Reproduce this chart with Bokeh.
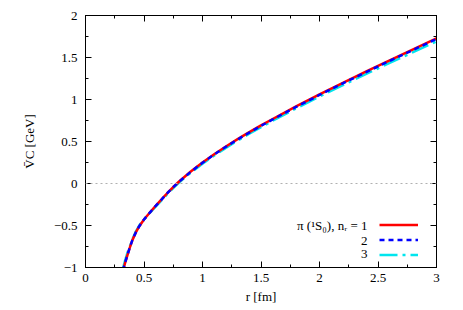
from bokeh.plotting import figure
from bokeh.models import (Range1d, SingleIntervalTicker, LinearAxis, Span, Legend,
                          LegendItem, Label, CustomJSTickFormatter, CustomLabelingPolicy)
from bokeh.embed import file_html
from bokeh.resources import INLINE

# r [fm]
r = [0.32, 0.34, 0.36, 0.38, 0.40, 0.43, 0.46, 0.50, 0.55, 0.60, 0.65, 0.70, 0.75, 0.80,
     0.90, 1.0, 1.1, 1.2, 1.3, 1.4, 1.5, 1.6, 1.8, 2.0, 2.2, 2.4, 2.6, 2.8, 3.0]
# V_C [GeV] for n_r = 1, 2, 3
v1 = [-1.039, -0.938, -0.846, -0.758, -0.677, -0.583, -0.508, -0.428, -0.345, -0.265,
      -0.190, -0.113, -0.042, 0.024, 0.143, 0.250, 0.349, 0.441, 0.528, 0.611, 0.691,
      0.768, 0.917, 1.060, 1.199, 1.334, 1.467, 1.597, 1.727]
v2 = [-1.036, -0.936, -0.844, -0.757, -0.676, -0.583, -0.508, -0.429, -0.346, -0.266,
      -0.191, -0.115, -0.044, 0.022, 0.140, 0.247, 0.345, 0.437, 0.524, 0.606, 0.686,
      0.763, 0.911, 1.054, 1.192, 1.327, 1.460, 1.590, 1.720]
v3 = [-1.009, -0.908, -0.818, -0.748, -0.667, -0.573, -0.498, -0.428, -0.35, -0.275,
      -0.201, -0.124, -0.054, 0.012, 0.130, 0.235, 0.333, 0.424, 0.510, 0.592, 0.671,
      0.747, 0.894, 1.035, 1.172, 1.305, 1.436, 1.564, 1.692]

legend_labels = ["\u03c0 (\u00b9S\u2080), n\u1d63 = 1", "2", "3"]

FONT = "serif"

p = figure(width=455, height=308, output_backend="svg", toolbar_location=None,
           x_range=Range1d(0, 3), y_range=Range1d(-1, 2),
           min_border_left=85, min_border_right=19, min_border_top=15, min_border_bottom=41)
p.grid.visible = False
p.outline_line_color = "black"
p.background_fill_color = "white"
p.border_fill_color = "white"

fmt = CustomJSTickFormatter(code="""
    const s = (Math.round(Math.abs(tick)*100)/100).toString();
    return tick < -1e-9 ? "\\u2212" + s : s;
""")

xt = SingleIntervalTicker(interval=0.5, num_minor_ticks=2)
yt = SingleIntervalTicker(interval=0.5, num_minor_ticks=2)
p.xaxis.ticker = xt
p.yaxis.ticker = yt
p.xaxis.formatter = fmt
p.yaxis.formatter = fmt

for ax in [p.xaxis[0], p.yaxis[0]]:
    ax.major_tick_in = 6
    ax.major_tick_out = 0
    ax.minor_tick_in = 3
    ax.minor_tick_out = 0
    ax.axis_line_color = "black"
    ax.major_tick_line_color = "black"
    ax.minor_tick_line_color = "black"
    ax.major_label_text_font = FONT
    ax.major_label_text_font_size = "13px"
    ax.major_label_text_color = "black"
    ax.axis_label_text_font = FONT
    ax.axis_label_text_font_size = "13px"
    ax.axis_label_text_font_style = "normal"
    ax.axis_label_text_color = "black"

p.xaxis.axis_label = "r [fm]"
p.yaxis.axis_label = "V\u0304C [GeV]"
p.xaxis.major_label_standoff = 6
p.yaxis.major_label_standoff = 8
p.xaxis.axis_label_standoff = 4
p.yaxis.axis_label_standoff = 14

no_labels = CustomLabelingPolicy(code="return new Set()")
for loc, tk in [("above", xt), ("right", yt)]:
    ax = LinearAxis(ticker=tk, major_label_text_font_size="1px", major_label_standoff=0,
                    major_label_policy=no_labels,
                    major_tick_in=6, major_tick_out=0, minor_tick_in=3, minor_tick_out=0,
                    axis_line_color="black", major_tick_line_color="black",
                    minor_tick_line_color="black")
    p.add_layout(ax, loc)

p.add_layout(Span(location=0, dimension="width", line_color="#b0b0b0",
                  line_dash="2 3", line_width=1))

l3 = p.line(r, v3, line_color="#00e5ee", line_width=2.5, line_dash="18 5 3 5")
l1 = p.line(r, v1, line_color="#ff0000", line_width=2.5)
l2 = p.line(r, v2, line_color="#0000ff", line_width=2.5, line_dash="5 4")

legend = Legend(items=[LegendItem(label=" ", renderers=[l1]),
                       LegendItem(label=" ", renderers=[l2]),
                       LegendItem(label=" ", renderers=[l3])],
                location=(294, 5), padding=0, margin=0, spacing=0,
                glyph_width=39, glyph_height=15, label_height=15, label_width=0,
                label_standoff=0, label_text_font_size="1px",
                background_fill_alpha=0, border_line_alpha=0)
p.add_layout(legend)

ys = [-0.5, -0.68, -0.845]
for t, y in zip(legend_labels, ys):
    p.add_layout(Label(x=2.41, y=y, text=t, text_align="right", text_baseline="middle",
                       text_font=FONT, text_font_size="13px", text_color="black"))

open("out.html", "w").write(file_html(p, INLINE))
